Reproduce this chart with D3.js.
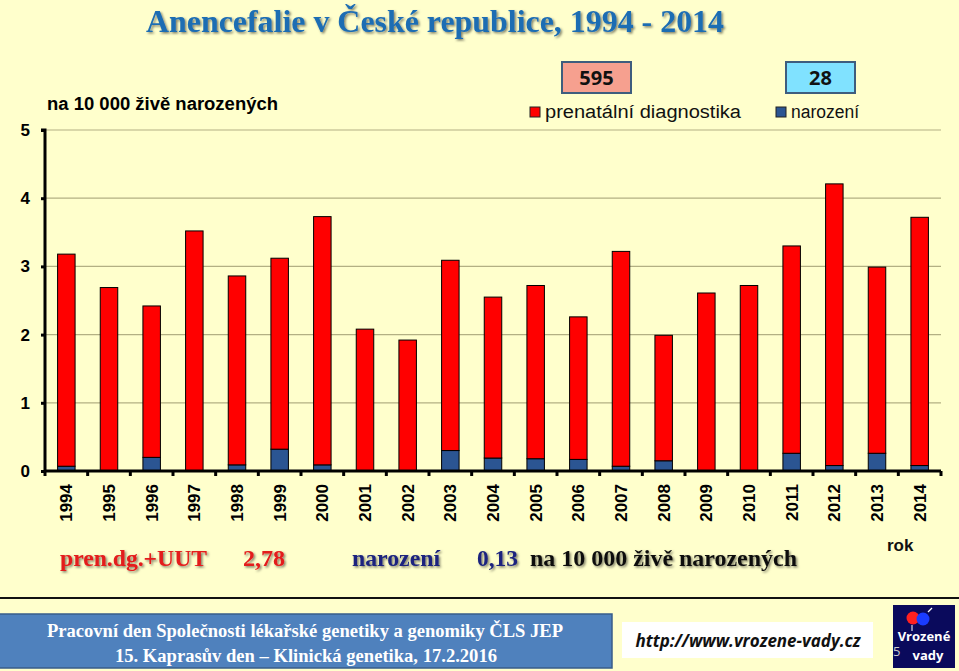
<!DOCTYPE html>
<html><head><meta charset="utf-8">
<script src="https://cdn.jsdelivr.net/npm/d3@7"></script>
<style>
html,body{margin:0;padding:0;background:#ffffcc;}
svg{display:block;}
</style></head>
<body>
<svg id="c" width="959" height="671"></svg>
<script>
const years = ["1994","1995","1996","1997","1998","1999","2000","2001","2002","2003","2004","2005","2006","2007","2008","2009","2010","2011","2012","2013","2014"];
const narozeni = [0.07,0,0.20,0,0.09,0.32,0.09,0,0,0.30,0.19,0.18,0.17,0.07,0.15,0,0,0.26,0.08,0.26,0.08];
const prenatal = [3.11,2.69,2.22,3.52,2.77,2.80,3.64,2.08,1.92,2.79,2.36,2.54,2.09,3.15,1.84,2.61,2.72,3.04,4.13,2.73,3.64];
const yTicks = [0,1,2,3,4,5];
const seriesNames = ["narozeni","prenatal"];
const seriesColors = {narozeni:"#2b5592", prenatal:"#ff0000"};

const svg = d3.select("#c");
svg.append("rect").attr("width",959).attr("height",671).attr("fill","#ffffcc");

const pL=45, pR=941, pT=130, pB=471;
const x = d3.scaleBand().domain(years).range([pL,pR]).paddingInner(0.59).paddingOuter(0.295);
const y = d3.scaleLinear().domain([0,5]).range([pB,pT]);

// gridlines
svg.append("g").selectAll("line").data(yTicks.filter(d=>d>0)).join("line")
  .attr("x1",pL).attr("x2",pR).attr("y1",d=>y(d)).attr("y2",d=>y(d))
  .attr("stroke","#b3b083").attr("stroke-width",1.2);

const table = years.map((yr,i)=>({year:yr, narozeni:narozeni[i], prenatal:prenatal[i]}));
const stacked = d3.stack().keys(seriesNames)(table);
svg.append("g").selectAll("g").data(stacked).join("g")
  .attr("fill",d=>seriesColors[d.key])
  .selectAll("rect").data(d=>d.filter(p=>p[1]-p[0]>0)).join("rect")
  .attr("x",d=>x(d.data.year)).attr("width",x.bandwidth())
  .attr("y",d=>y(d[1])).attr("height",d=>y(d[0])-y(d[1]))
  .attr("stroke","#000").attr("stroke-width",1);

// y axis
const ya = svg.append("g").attr("transform",`translate(${pL},0)`)
  .call(d3.axisLeft(y).tickValues(yTicks).tickSize(4).tickPadding(11).tickFormat(d3.format("d")));
ya.select(".domain").attr("stroke","#000").attr("stroke-width",3).attr("d",`M-4,${pT}H0V${pB}`);
ya.selectAll(".tick line").attr("stroke","#000").attr("stroke-width",3);
ya.selectAll(".tick text").attr("font-family","Liberation Sans, Arial").attr("font-weight","bold").attr("font-size",17).attr("fill","#000");

// x axis
const xa = svg.append("g").attr("transform",`translate(0,${pB})`)
  .call(d3.axisBottom(x).tickSize(0).tickPadding(0));
xa.select(".domain").attr("stroke","#000").attr("stroke-width",3).attr("d",`M${pL},0H${pR}`);
xa.selectAll(".tick text")
  .attr("font-family","Liberation Sans, Arial").attr("font-weight","bold").attr("font-size",17).attr("fill","#000")
  .attr("transform","rotate(-90)").attr("text-anchor","end").attr("dy","0.35em").attr("x",-13).attr("y",0);
// boundary ticks
const bounds = d3.range(years.length+1).map(i=>pL + i*(pR-pL)/years.length);
svg.append("g").selectAll("line").data(bounds).join("line")
  .attr("x1",d=>d).attr("x2",d=>d).attr("y1",pB).attr("y2",pB+5)
  .attr("stroke","#000").attr("stroke-width",3);

// title
const defs = svg.append("defs");
const f = defs.append("filter").attr("id","sh").attr("x","-5%").attr("y","-20%").attr("width","110%").attr("height","150%");
f.append("feDropShadow").attr("dx",1.5).attr("dy",1.5).attr("stdDeviation",0.8).attr("flood-color","#000").attr("flood-opacity",0.5);

svg.append("text").attr("x",435).attr("y",32).attr("text-anchor","middle")
  .attr("font-family","Liberation Serif, Times New Roman").attr("font-weight","bold").attr("font-size",32)
  .attr("fill","#1f6db3").attr("filter","url(#sh)")
  .attr("textLength",578).attr("lengthAdjust","spacingAndGlyphs")
  .text("Anencefalie v České republice, 1994 - 2014");

svg.append("text").attr("x",47).attr("y",110)
  .attr("font-family","Liberation Sans, Arial").attr("font-weight","bold").attr("font-size",18).attr("fill","#000")
  .attr("textLength",231).attr("lengthAdjust","spacingAndGlyphs")
  .text("na 10 000 živě narozených");

// legend boxes
const boxes = [{x:562,label:"595",fill:"#f6a08f"},{x:786,label:"28",fill:"#80e2ff"}];
boxes.forEach(b=>{
  svg.append("rect").attr("x",b.x).attr("y",62).attr("width",69).attr("height",31)
    .attr("fill",b.fill).attr("stroke","#3e5d7e").attr("stroke-width",2);
  svg.append("text").attr("x",b.x+34.5).attr("y",85).attr("text-anchor","middle")
    .attr("font-family","Open Sans, Lato, sans-serif").attr("font-weight","bold").attr("font-size",20).attr("fill","#111")
    .text(b.label);
});
const legend = [{x:530,key:"prenatal",label:"prenatální diagnostika",w:196},{x:776,key:"narozeni",label:"narození",w:68}];
legend.forEach(l=>{
  svg.append("rect").attr("x",l.x).attr("y",107).attr("width",10).attr("height",10)
    .attr("fill",seriesColors[l.key]).attr("stroke","#222").attr("stroke-width",1);
  svg.append("text").attr("x",l.x+15).attr("y",118)
    .attr("font-family","Liberation Sans, Arial").attr("font-size",18).attr("fill","#111")
    .attr("textLength",l.w).attr("lengthAdjust","spacingAndGlyphs")
    .text(l.label);
});

// bottom summary
const ser = "Liberation Serif, Times New Roman";
const summary = [
  {x:60,t:"pren.dg.+UUT",c:"#e31b1b",w:147},
  {x:243,t:"2,78",c:"#e31b1b",w:42},
  {x:352,t:"narození",c:"#1a237e",w:88},
  {x:477,t:"0,13",c:"#1a237e",w:41},
  {x:530,t:"na 10 000 živě narozených",c:"#111",w:267}
];
summary.forEach(s=>{
  svg.append("text").attr("x",s.x).attr("y",566)
    .attr("font-family",ser).attr("font-weight","bold").attr("font-size",23)
    .attr("fill",s.c).attr("filter","url(#sh)")
    .attr("textLength",s.w).attr("lengthAdjust","spacingAndGlyphs").text(s.t);
});
svg.append("text").attr("x",887).attr("y",551)
  .attr("font-family","Liberation Sans, Arial").attr("font-weight","bold").attr("font-size",17).attr("fill","#111")
  .text("rok");

// separator line
svg.append("line").attr("x1",0).attr("x2",959).attr("y1",598).attr("y2",598).attr("stroke","#111").attr("stroke-width",2);

// footer
svg.append("rect").attr("x",-2).attr("y",614).attr("width",614).attr("height",54)
  .attr("fill","#4f81bd").attr("stroke","#385d8a").attr("stroke-width",1.5);
svg.append("text").attr("x",305).attr("y",637).attr("text-anchor","middle")
  .attr("font-family",ser).attr("font-weight","bold").attr("font-size",18).attr("fill","#fff")
  .attr("textLength",516).attr("lengthAdjust","spacingAndGlyphs")
  .text("Pracovní den Společnosti lékařské genetiky a genomiky ČLS JEP");
svg.append("text").attr("x",306).attr("y",662).attr("text-anchor","middle")
  .attr("font-family",ser).attr("font-weight","bold").attr("font-size",18).attr("fill","#fff")
  .attr("textLength",382).attr("lengthAdjust","spacingAndGlyphs")
  .text("15. Kaprasův den – Klinická genetika, 17.2.2016");

svg.append("rect").attr("x",622).attr("y",622).attr("width",251).attr("height",36).attr("fill","#fff");
svg.append("text").attr("x",748).attr("y",647).attr("text-anchor","middle")
  .attr("font-family","Open Sans, sans-serif").attr("font-weight","bold").attr("font-style","italic").attr("font-size",17).attr("fill","#111")
  .attr("textLength",225).attr("lengthAdjust","spacingAndGlyphs")
  .text("http://www.vrozene-vady.cz");

// logo
svg.append("rect").attr("x",893).attr("y",605).attr("width",62).attr("height",63).attr("fill","#0a0a5c");
svg.append("circle").attr("cx",913).attr("cy",618).attr("r",6.5).attr("fill","#ff2020");
svg.append("circle").attr("cx",923).attr("cy",619).attr("r",6.5).attr("fill","#1a3cff");
svg.append("line").attr("x1",928).attr("y1",612).attr("x2",932).attr("y2",608).attr("stroke","#fff").attr("stroke-width",1.2);
svg.append("line").attr("x1",912).attr("y1",625).attr("x2",912).attr("y2",631).attr("stroke","#fff").attr("stroke-width",1);
svg.append("text").attr("x",924).attr("y",641).attr("text-anchor","middle")
  .attr("font-family","Open Sans, sans-serif").attr("font-weight","bold").attr("font-size",13).attr("fill","#fff").text("Vrozené");
svg.append("text").attr("x",928).attr("y",660).attr("text-anchor","middle")
  .attr("font-family","Open Sans, sans-serif").attr("font-weight","bold").attr("font-size",13).attr("fill","#fff").text("vady");
svg.append("text").attr("x",893).attr("y",656)
  .attr("font-family","Open Sans, sans-serif").attr("font-size",13).attr("fill","#ccc").text("5");
</script>
</body></html>
